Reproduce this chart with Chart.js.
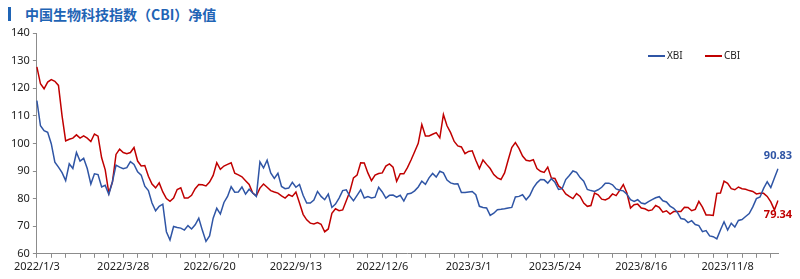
<!DOCTYPE html>
<html>
<head>
<meta charset="utf-8">
<script src="https://cdn.jsdelivr.net/npm/chart.js@4.4.1/dist/chart.umd.min.js"></script>
<style>
  body { margin: 0; background: #fff; }
  #wrap { position: relative; width: 800px; height: 279px; }
  #title {
    position: absolute; left: 8px; top: 7px; height: 14px;
    border-left: 3px solid #1f64b5; padding-left: 14px;
    font: bold 14px "Noto Sans CJK SC", sans-serif; line-height: 14px; color: #1f64b5;
  }
  canvas { position: absolute; left: 0; top: 0; }
</style>
</head>
<body>
<div id="wrap">
  <div id="title">中国生物科技指数（CBI）净值</div>
  <canvas id="chart" width="800" height="279"></canvas>
</div>
<script>
// half-week samples from 2022/1/3 to end of 2023
const tickLabels = ['2022/1/3', '2022/3/28', '2022/6/20', '2022/9/13', '2022/12/6',
  '2023/3/1', '2023/5/24', '2023/8/16', '2023/11/8'];

const xbiValues = [
  115.5, 106.4, 104.6, 104.0, 99.9, 93.2, 91.4, 89.4, 86.5, 92.6,
  90.9, 96.7, 93.6, 94.6, 90.9, 85.3, 89.0, 88.7, 84.2, 84.8,
  81.5, 86.1, 92.1, 91.4, 90.8, 91.2, 93.4, 92.4, 89.7, 88.5,
  84.5, 82.9, 78.4, 75.6, 77.2, 78.0, 68.0, 65.0, 69.9, 69.5,
  69.3, 68.6, 70.2, 69.0, 70.5, 72.9, 68.5, 64.5, 66.5, 72.9,
  76.5, 74.4, 78.6, 80.8, 84.3, 82.3, 82.4, 84.2, 81.6, 83.4,
  82.0, 80.8, 93.3, 91.1, 93.9, 89.3, 87.3, 89.2, 84.4, 83.6,
  83.8, 85.9, 84.1, 85.1, 81.2, 78.4, 78.4, 79.5, 82.6, 80.8,
  79.6, 81.6, 76.8, 78.0, 80.2, 82.9, 83.2, 80.9, 79.2, 81.2,
  83.2, 80.2, 80.7, 80.2, 80.5, 84.1, 82.4, 80.2, 81.2, 81.3,
  80.5, 81.2, 79.1, 81.7, 81.9, 82.8, 84.2, 86.3, 85.2, 87.5,
  89.1, 87.8, 89.9, 89.3, 86.7, 85.7, 85.3, 85.4, 82.2, 82.2,
  82.4, 82.6, 81.4, 77.2, 76.8, 76.6, 73.9, 74.7, 76.0, 76.1,
  76.3, 76.6, 76.8, 80.6, 80.8, 81.4, 79.6, 81.1, 83.9, 85.7,
  86.9, 86.8, 85.6, 87.2, 85.9, 83.3, 83.6, 86.9, 88.4, 90.0,
  89.5, 87.6, 86.3, 83.3, 82.9, 82.6, 83.2, 84.1, 85.6, 85.6,
  85.0, 83.5, 83.0, 82.8, 81.6, 79.6, 79.0, 79.6, 78.4, 78.1,
  78.9, 79.6, 80.3, 80.7, 79.2, 78.8, 77.3, 76.5, 75.1, 72.8,
  72.5, 71.3, 72.0, 70.6, 70.2, 68.0, 68.4, 66.5, 66.2, 65.4,
  68.6, 71.6, 68.6, 71.1, 69.7, 72.1, 72.4, 73.5, 74.6, 77.0,
  80.0, 80.6, 83.7, 86.1, 84.0, 87.5, 90.83
];

const cbiValues = [
  127.7, 121.6, 119.8, 122.2, 123.1, 122.5, 121.0, 110.0, 100.9, 101.5,
  101.9, 103.1, 101.9, 102.7, 101.9, 100.7, 103.4, 102.6, 94.8, 90.4,
  82.0, 86.0, 96.0, 97.9, 96.7, 96.3, 96.7, 98.5, 93.6, 91.8,
  92.0, 88.1, 85.3, 83.9, 85.7, 82.4, 80.0, 79.0, 80.2, 83.3,
  83.9, 80.2, 80.2, 81.2, 83.6, 85.1, 85.0, 84.6, 86.0, 88.4,
  93.0, 90.6, 91.8, 92.4, 93.0, 89.2, 88.6, 87.9, 86.5, 85.1,
  82.0, 81.0, 83.8, 85.3, 84.1, 82.9, 82.4, 82.0, 81.0, 80.2,
  81.4, 80.8, 82.4, 78.4, 74.3, 72.3, 71.1, 70.8, 71.3, 70.7,
  68.0, 69.0, 74.7, 76.3, 75.6, 75.9, 79.2, 82.6, 87.5, 88.5,
  93.0, 92.9, 89.3, 86.5, 88.5, 89.1, 89.3, 91.8, 92.6, 91.4,
  86.3, 89.0, 89.0, 91.2, 94.0, 97.0, 100.0, 106.8, 102.7, 102.7,
  103.3, 103.9, 102.0, 110.5, 106.4, 103.9, 100.7, 99.1, 98.7, 96.3,
  97.1, 97.3, 93.9, 90.9, 94.0, 92.4, 90.9, 88.7, 87.5, 86.9,
  89.3, 94.0, 98.5, 100.3, 98.2, 95.4, 93.9, 93.6, 94.1, 90.9,
  89.9, 89.5, 91.4, 87.5, 87.3, 84.6, 83.6, 81.7, 80.8, 80.0,
  81.8, 80.8, 78.4, 77.2, 77.5, 82.0, 81.4, 79.8, 79.5, 80.2,
  81.7, 81.1, 83.0, 85.1, 82.0, 76.6, 77.8, 78.0, 76.6, 76.3,
  75.6, 75.9, 77.5, 76.8, 75.1, 75.6, 74.4, 75.3, 75.3, 75.3,
  76.9, 76.8, 75.6, 76.1, 79.0, 76.9, 74.1, 74.1, 73.9, 81.9,
  82.0, 86.3, 85.5, 83.6, 83.2, 84.2, 83.6, 83.4, 82.9, 82.6,
  81.7, 81.9, 81.9, 80.8, 78.8, 75.9, 79.34
];

const seriesNames = ['XBI', 'CBI'];
const seriesColors = ['#2f55a5', '#c00000'];

const STEP = 24;      // samples between labelled ticks
const MINOR = 4;      // samples between tick marks
const axisColor = '#8c8c8c';
const textFont = '"Noto Sans", sans-serif';

// legend drawn inside the plot, top right
const plotLegend = {
  id: 'plotLegend',
  afterDraw(chart) {
    const { ctx, chartArea } = chart;
    let x = chartArea.right - 130;
    const y = chartArea.top + 23;
    ctx.save();
    ctx.font = '10px ' + textFont;
    ctx.textBaseline = 'middle';
    chart.data.datasets.forEach(ds => {
      ctx.strokeStyle = ds.borderColor;
      ctx.lineWidth = 2;
      ctx.beginPath();
      ctx.moveTo(x, y);
      ctx.lineTo(x + 17, y);
      ctx.stroke();
      ctx.fillStyle = '#222';
      ctx.fillText(ds.label, x + 19, y);
      x += 57;
    });
    ctx.restore();
  }
};

// value of the last point next to each line
const endLabels = {
  id: 'endLabels',
  afterDatasetsDraw(chart) {
    const { ctx } = chart;
    ctx.save();
    ctx.font = 'bold 11px ' + textFont;
    ctx.textAlign = 'center';
    ctx.textBaseline = 'middle';
    chart.data.datasets.forEach((ds, i) => {
      const pts = chart.getDatasetMeta(i).data;
      const last = pts[pts.length - 1];
      const v = ds.data[ds.data.length - 1];
      const dy = i === 0 ? -13 : 14;
      ctx.fillStyle = ds.borderColor;
      ctx.fillText(v.toFixed(2), last.x, last.y + dy);
    });
    ctx.restore();
  }
};

new Chart(document.getElementById('chart'), {
  type: 'line',
  data: {
    labels: xbiValues.map((_, i) => i),
    datasets: [
      { label: seriesNames[0], data: xbiValues, borderColor: seriesColors[0] },
      { label: seriesNames[1], data: cbiValues, borderColor: seriesColors[1] }
    ]
  },
  options: {
    responsive: false,
    animation: false,
    layout: { padding: { left: 8, right: 22, top: 33, bottom: 4 } },
    elements: {
      point: { radius: 0 },
      line: { borderWidth: 1.5, tension: 0 }
    },
    plugins: {
      legend: { display: false },
      tooltip: { enabled: false }
    },
    scales: {
      x: {
        afterBuildTicks(axis) {
          axis.ticks = axis.ticks.filter(t => t.value % MINOR === 0);
        },
        ticks: {
          autoSkip: false,
          maxRotation: 0,
          padding: 2,
          color: '#222',
          font: { family: textFont, size: 11 },
          callback: v => (v % STEP === 0 ? tickLabels[v / STEP] || '' : '')
        },
        grid: { drawOnChartArea: false, tickLength: 4, color: axisColor },
        border: { color: axisColor }
      },
      y: {
        min: 60,
        max: 140,
        ticks: {
          stepSize: 10,
          padding: 3,
          color: '#222',
          font: { family: textFont, size: 11 }
        },
        grid: { drawOnChartArea: false, tickLength: 4, color: axisColor },
        border: { color: axisColor }
      }
    }
  },
  plugins: [plotLegend, endLabels]
});
</script>
</body>
</html>
